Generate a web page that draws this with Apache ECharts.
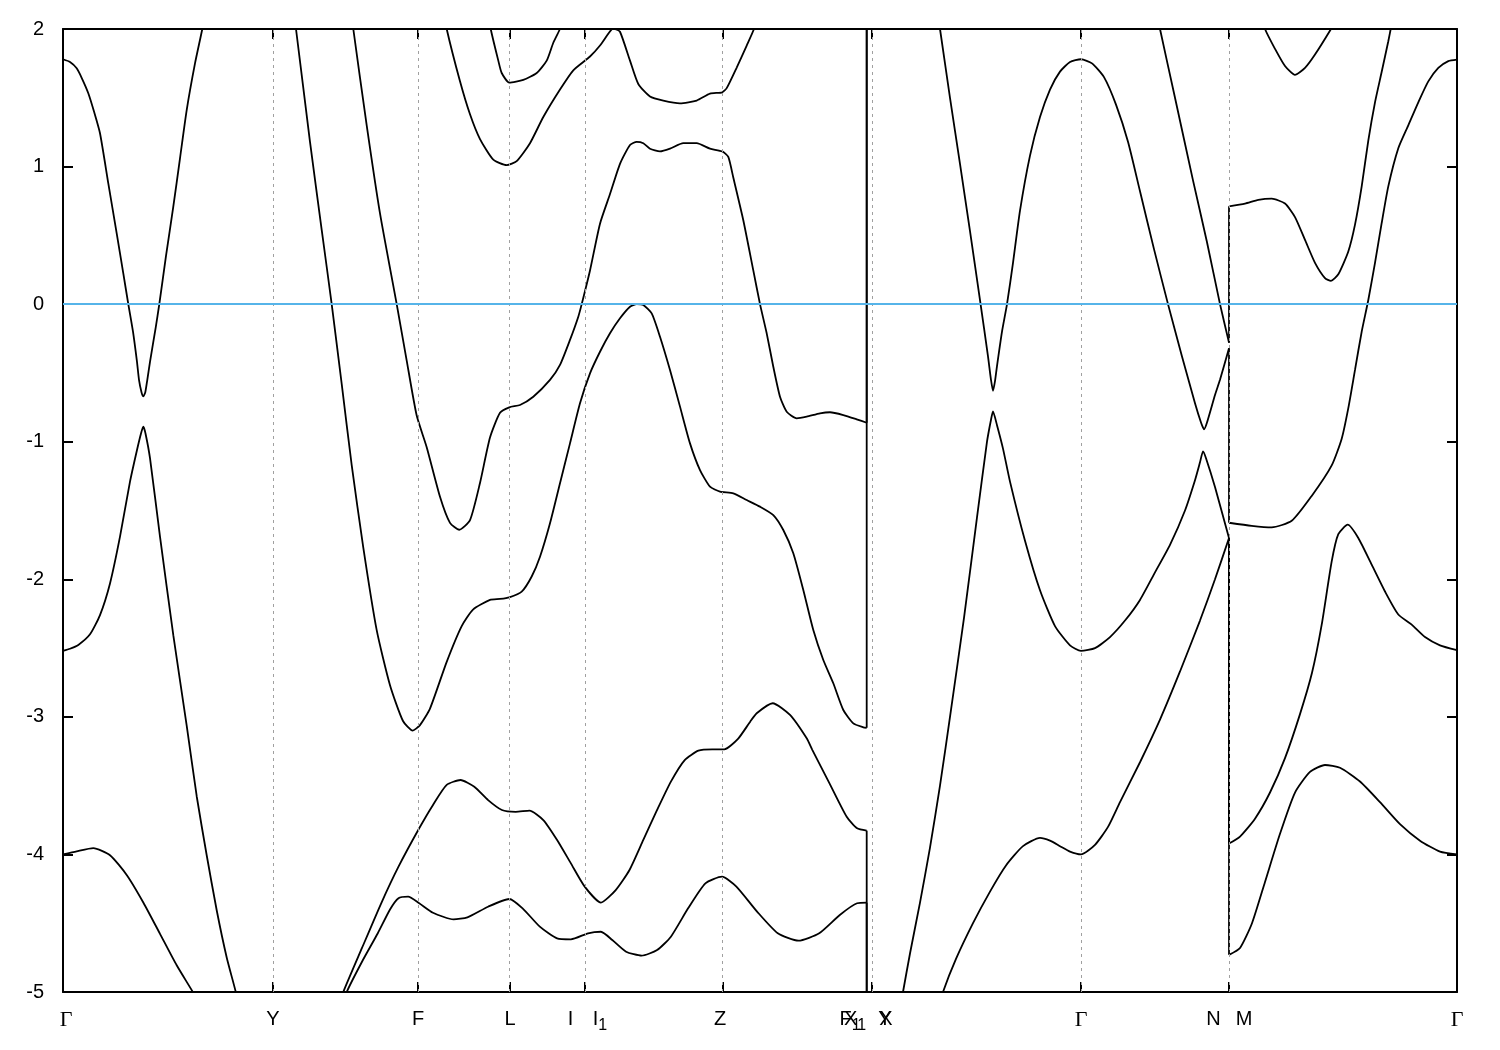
<!DOCTYPE html>
<html><head><meta charset="utf-8">
<script src="https://cdn.jsdelivr.net/npm/echarts@6/dist/echarts.min.js"></script>
<style>html,body{margin:0;padding:0;background:#fff}#c{width:1500px;height:1050px}</style>
</head><body><div id="c"></div>
<script>
// k-path coordinate (arbitrary path-length units), energies in eV
const kMin = 0, kMax = 1394;
const eMin = -5, eMax = 2;
const tickK = [210, 355, 446.5, 522, 659.3, 809, 1018, 1166];
const labelK = [3, 210, 355, 447, 507.5, 537, 657, 787, 792, 822, 823, 1018, 1150.5, 1181, 1394];
const labelText = ['Γ','Y','F','L','I','I_1','Z','F_1','X_1','Y','X','Γ','N','M','Γ'];
const kF1X1 = 803.7;
const kNM = 1166;
const x1Values = [2.6, 2.3, -5.3, -5.6];

// Γ - Y
const bandG1 = [[0,1.78],[7,1.76],[13.7,1.714],[19,1.64],[25.3,1.533],[31,1.40],[37,1.242],[45.3,0.878],[53.7,0.515],[60.3,0.224],[65.3,0],[70,-0.2],[74,-0.42],[76,-0.55],[78.5,-0.64],[80.3,-0.67],[82.3,-0.64],[84.3,-0.55],[87,-0.42],[92.7,-0.17],[96.3,0],[103,0.35],[110.3,0.708],[117,1.06],[123.7,1.411],[132,1.75],[139.3,2.0],[143,2.15]];
const bandG2 = [[0,-2.52],[7,-2.505],[15.3,-2.477],[27,-2.4],[37,-2.26],[47,-2.03],[57,-1.69],[67,-1.29],[74,-1.06],[78,-0.94],[80.3,-0.891],[82.5,-0.94],[87,-1.12],[97,-1.69],[110.3,-2.406],[123.7,-3.063],[133.7,-3.577],[143.7,-4.006],[153.7,-4.406],[163.7,-4.749],[173,-5.006],[177,-5.15]];
const bandG3 = [[0,-4.0],[13.7,-3.977],[30.3,-3.954],[47,-4.006],[63.7,-4.149],[80.3,-4.349],[97,-4.577],[113.7,-4.806],[130.3,-5.006],[134,-5.06]];
// Y - F - L - I - Z - F1
const bandYF1 = [[231,2.1],[233,2.0],[247,1.18],[258.7,0.54],[268.7,0],[278.7,-0.58],[288.7,-1.17],[300.3,-1.77],[313.7,-2.37],[327,-2.77],[340,-3.03],[349.7,-3.1],[357,-3.06],[367,-2.94],[383.7,-2.60],[398.7,-2.34],[410,-2.22],[427,-2.15],[437,-2.143],[446.3,-2.131],[458.7,-2.09],[468.7,-1.98],[477,-1.836],[487,-1.593],[497,-1.302],[507,-1.012],[517,-0.721],[527,-0.503],[537,-0.346],[547,-0.212],[557,-0.103],[567,-0.019],[573.7,0.0],[580.3,-0.006],[588.7,-0.067],[597,-0.237],[607,-0.479],[617,-0.745],[627,-1.012],[637,-1.206],[647,-1.327],[657,-1.363],[670.3,-1.375],[683.7,-1.424],[697,-1.472],[710.3,-1.533],[720.3,-1.642],[730.3,-1.811],[740.3,-2.078],[750.3,-2.369],[760.3,-2.587],[770.3,-2.756],[780.3,-2.95],[790.3,-3.047],[800.3,-3.076],[803.7,-3.08]];
const bandYF2 = [[289,2.1],[290.3,2.0],[303.7,1.3],[317,0.66],[333.7,0],[343.7,-0.41],[353.7,-0.81],[363.7,-1.04],[377,-1.40],[387,-1.59],[396.3,-1.64],[407,-1.57],[417,-1.30],[427,-0.97],[437,-0.79],[446.3,-0.75],[457,-0.733],[470.3,-0.673],[487,-0.551],[497,-0.442],[507,-0.26],[515.3,-0.091],[518.7,0],[527,0.245],[537,0.585],[547,0.80],[557,1.02],[567,1.157],[573.7,1.18],[580.3,1.17],[587,1.13],[597,1.11],[607,1.13],[620.3,1.17],[633.7,1.17],[647,1.13],[659.3,1.11],[665.3,1.07],[670.3,0.92],[680.3,0.61],[690.3,0.245],[697,0],[703.7,-0.212],[710.3,-0.455],[717,-0.673],[723.7,-0.782],[733.7,-0.83],[743.7,-0.818],[757,-0.794],[767,-0.786],[780.3,-0.806],[793.7,-0.837],[803.7,-0.862]];
const bandLZ1 = [[382,2.1],[383.7,2.0],[397,1.62],[407,1.38],[417,1.2],[430.3,1.05],[443.7,1.01],[453.7,1.04],[467,1.17],[480.3,1.36],[497,1.56],[510.3,1.70],[527,1.80],[537,1.88],[548.7,1.997],[552,2.0],[557,1.98],[567,1.77],[575.3,1.60],[587,1.51],[600.3,1.48],[617,1.46],[633.7,1.48],[647,1.53],[659.3,1.54],[663.7,1.57],[673.7,1.72],[683.7,1.88],[691,2.0],[694,2.08]];
const bandLZ2 = [[427,2.05],[427.7,2.0],[435.3,1.77],[438.7,1.68],[446.3,1.61],[460.3,1.63],[473.7,1.68],[483.7,1.77],[490.3,1.90],[497,2.0],[499,2.04]];
const bandFZ1 = [[279,-5.05],[280.3,-5.0],[299,-4.68],[318.2,-4.355],[335.5,-4.089],[356.2,-3.81],[370,-3.64],[383.7,-3.495],[397.5,-3.459],[411.3,-3.508],[425.1,-3.605],[438.9,-3.677],[452.7,-3.69],[466.5,-3.682],[480.3,-3.75],[494.1,-3.895],[507.9,-4.065],[521.7,-4.234],[537.9,-4.35],[552.7,-4.259],[566.5,-4.113],[580.3,-3.895],[594.1,-3.677],[607.9,-3.471],[621.7,-3.314],[635.4,-3.246],[649.3,-3.236],[661.3,-3.236],[675,-3.16],[687.2,-3.035],[693.7,-2.974],[709.7,-2.901],[727,-2.986],[743.7,-3.156],[749.3,-3.24],[766.5,-3.483],[783.7,-3.726],[794.1,-3.81],[803.7,-3.827]];
const bandFZ2 = [[282.5,-5.05],[283.7,-5.0],[299,-4.78],[314.8,-4.573],[327,-4.4],[335.5,-4.318],[345.1,-4.307],[356.2,-4.355],[370,-4.424],[390.6,-4.472],[404.4,-4.457],[425.1,-4.38],[446.3,-4.324],[459.6,-4.392],[476.8,-4.525],[494.1,-4.61],[507.9,-4.617],[525.1,-4.573],[537.9,-4.562],[549.3,-4.622],[563.1,-4.707],[578.6,-4.736],[594.1,-4.695],[607.9,-4.598],[625.1,-4.392],[642.4,-4.21],[659,-4.162],[673.4,-4.234],[694.1,-4.416],[714.8,-4.573],[735.5,-4.627],[756.2,-4.573],[776.8,-4.44],[794.1,-4.355],[803.7,-4.351]];
// X - Γ - N
const bandXN1 = [[875,2.1],[877,2.0],[887,1.5],[897,1.02],[907,0.53],[917,0.03],[925,-0.38],[928,-0.55],[930,-0.63],[932,-0.56],[934,-0.45],[939,-0.2],[944,0],[950,0.3],[957,0.68],[967,1.08],[977,1.36],[987,1.56],[997,1.69],[1007,1.76],[1018,1.78],[1029,1.75],[1041,1.65],[1053,1.45],[1065,1.18],[1077,0.82],[1091,0.4],[1105,0],[1119,-0.38],[1132,-0.72],[1138,-0.86],[1141,-0.91],[1144,-0.86],[1152,-0.66],[1157,-0.55],[1166,-0.32]];
const bandXN2 = [[1096,2.05],[1097,2.0],[1112,1.5],[1130,0.9],[1144,0.45],[1157,0],[1166,-0.28]];
const bandXN3 = [[839,-5.05],[840,-5.0],[847,-4.72],[857,-4.35],[867,-3.95],[877,-3.5],[888,-2.95],[901,-2.28],[914,-1.55],[924,-1.0],[928,-0.84],[930,-0.78],[934,-0.88],[940,-1.05],[947,-1.29],[962,-1.72],[977,-2.08],[992,-2.34],[1007,-2.48],[1018,-2.52],[1032,-2.5],[1047,-2.42],[1062,-2.3],[1077,-2.15],[1092,-1.95],[1107,-1.75],[1122,-1.5],[1132,-1.28],[1137,-1.15],[1140,-1.07],[1143,-1.12],[1152,-1.33],[1166,-1.7]];
const bandXN4 = [[879,-5.05],[880,-5.0],[893,-4.76],[910,-4.5],[927,-4.27],[943,-4.08],[960,-3.94],[977,-3.88],[987,-3.9],[997,-3.94],[1007,-3.98],[1018,-4.0],[1032,-3.93],[1045,-3.8],[1057,-3.62],[1077,-3.33],[1097,-3.02],[1117,-2.67],[1137,-2.3],[1152,-2.0],[1166,-1.7]];
// M - Γ
const bandMG0 = [[1201,2.05],[1202,2.0],[1212,1.856],[1222,1.731],[1232,1.667],[1242,1.717],[1252,1.814],[1268,2.0],[1270,2.03]];
const bandMG1 = [[1166,0.711],[1182,0.731],[1195.3,0.758],[1208.7,0.767],[1222,0.731],[1232,0.633],[1242,0.467],[1252,0.30],[1262,0.189],[1268,0.169],[1275.3,0.217],[1285.3,0.383],[1292,0.578],[1298.7,0.856],[1305.3,1.189],[1312,1.467],[1318.7,1.689],[1325.3,1.911],[1327.7,2.0],[1329,2.05]];
const bandMG2 = [[1166,-1.589],[1188.7,-1.611],[1208.7,-1.622],[1228.7,-1.575],[1248.7,-1.394],[1268.7,-1.172],[1278.7,-0.978],[1285.3,-0.756],[1292,-0.478],[1298.7,-0.2],[1305.3,0.03],[1312,0.3],[1318.7,0.59],[1325.3,0.856],[1335.3,1.133],[1345.3,1.3],[1355.3,1.467],[1365.3,1.619],[1375.3,1.717],[1385.3,1.767],[1394,1.778]];
const bandMG3 = [[1166,-3.92],[1177,-3.87],[1192,-3.74],[1207,-3.55],[1222,-3.3],[1237,-2.98],[1249,-2.68],[1258.7,-2.33],[1268.7,-1.87],[1275.3,-1.672],[1284.7,-1.603],[1295.3,-1.7],[1308.7,-1.894],[1322,-2.089],[1335.3,-2.256],[1348.7,-2.33],[1362,-2.42],[1377,-2.48],[1394,-2.515]];
const bandMG4 = [[1166,-4.73],[1177,-4.68],[1189,-4.5],[1202,-4.2],[1217,-3.85],[1232,-3.55],[1247,-3.4],[1262,-3.35],[1277,-3.37],[1297,-3.47],[1317,-3.62],[1337,-3.78],[1357,-3.9],[1377,-3.98],[1394,-4.0]];

const allBands = [bandG1,bandG2,bandG3,bandYF1,bandYF2,bandLZ1,bandLZ2,bandFZ1,bandFZ2,bandXN1,bandXN2,bandXN3,bandXN4,bandMG0,bandMG1,bandMG2,bandMG3,bandMG4];
const f1x1Left = [bandYF2, bandYF1, bandFZ1, bandFZ2];
const nmPairs = [[bandXN2, bandMG1],[bandXN1, bandMG2],[bandXN3, bandMG3],[bandXN4, bandMG4]];

const last = a => a[a.length - 1][1];
const first = a => a[0][1];
const jumps = [];
f1x1Left.forEach((b, i) => jumps.push([[kF1X1, last(b)], [kF1X1, x1Values[i]]]));
nmPairs.forEach(p => jumps.push([[kNM, last(p[0])], [kNM, first(p[1])]]));

function richLabel(t) {
  if (t === 'Γ') return '{g|Γ}';
  const p = t.split('_');
  return p.length > 1 ? '{n|' + p[0] + '}{s|' + p[1] + '}' : '{n|' + t + '}';
}

const black = '#000';
const bandStyle = {color: black, width: 1.8};
const series = [];
allBands.forEach(b => series.push({type: 'line', data: b, symbol: 'none', smooth: 0.2,
  lineStyle: bandStyle, silent: true, z: 3, clip: true}));
jumps.forEach(j => series.push({type: 'line', data: j, symbol: 'none', lineStyle: bandStyle, silent: true, z: 3, clip: true}));
series.push({type: 'line', data: [], symbol: 'none', silent: true, z: 1,
  markLine: {symbol: ['none', 'none'], silent: true, animation: false, label: {show: false},
    lineStyle: {color: '#a0a0a0', width: 1, type: [3, 4]},
    data: tickK.map(k => ({xAxis: k}))}});
series.push({type: 'line', data: [], symbol: 'none', silent: true, z: 10,
  markLine: {symbol: ['none', 'none'], silent: true, animation: false, label: {show: false},
    lineStyle: {color: '#56b4e9', width: 2, type: 'solid'},
    data: [{yAxis: 0}]}});

const axisLineStyle = {show: true, onZero: false, lineStyle: {color: black, width: 2}};
const tickStyle = {color: black, width: 2};

const chart = echarts.init(document.getElementById('c'), null, {renderer: 'canvas'});
chart.setOption({
  animation: false,
  backgroundColor: '#fff',
  grid: {left: 63, top: 29, right: 43, bottom: 58, containLabel: false},
  xAxis: [
    {type: 'value', position: 'bottom', min: kMin, max: kMax, axisLine: axisLineStyle,
      axisTick: {show: true, inside: true, length: 10, customValues: tickK, lineStyle: tickStyle},
      splitLine: {show: false},
      axisLabel: {show: true, customValues: labelK, margin: 17,
        formatter: function (v) {
          for (let i = 0; i < labelK.length; i++) if (Math.abs(labelK[i] - v) < 0.05) return richLabel(labelText[i]);
          return '';
        },
        rich: {
          n: {fontFamily: 'Liberation Sans', fontSize: 20, color: black, lineHeight: 24, verticalAlign: 'top'},
          g: {fontFamily: 'Liberation Serif', fontSize: 22, color: black, lineHeight: 24, verticalAlign: 'top'},
          s: {fontFamily: 'Liberation Sans', fontSize: 16, color: black, lineHeight: 24, verticalAlign: 'top', padding: [9, 0, 0, 0]}
        }}},
    {type: 'value', position: 'top', min: kMin, max: kMax, axisLine: axisLineStyle,
      axisTick: {show: true, inside: true, length: 10, customValues: tickK, lineStyle: tickStyle},
      axisLabel: {show: false}, splitLine: {show: false}}
  ],
  yAxis: [
    {type: 'value', position: 'left', min: eMin, max: eMax, interval: 1, axisLine: axisLineStyle,
      axisTick: {show: true, inside: true, length: 10, lineStyle: tickStyle},
      axisLabel: {fontFamily: 'Liberation Sans', fontSize: 20, color: black, margin: 19},
      splitLine: {show: false}},
    {type: 'value', position: 'right', min: eMin, max: eMax, interval: 1, axisLine: axisLineStyle,
      axisTick: {show: true, inside: true, length: 10, lineStyle: tickStyle},
      axisLabel: {show: false}, splitLine: {show: false}}
  ],
  series: series
});
</script></body></html>
